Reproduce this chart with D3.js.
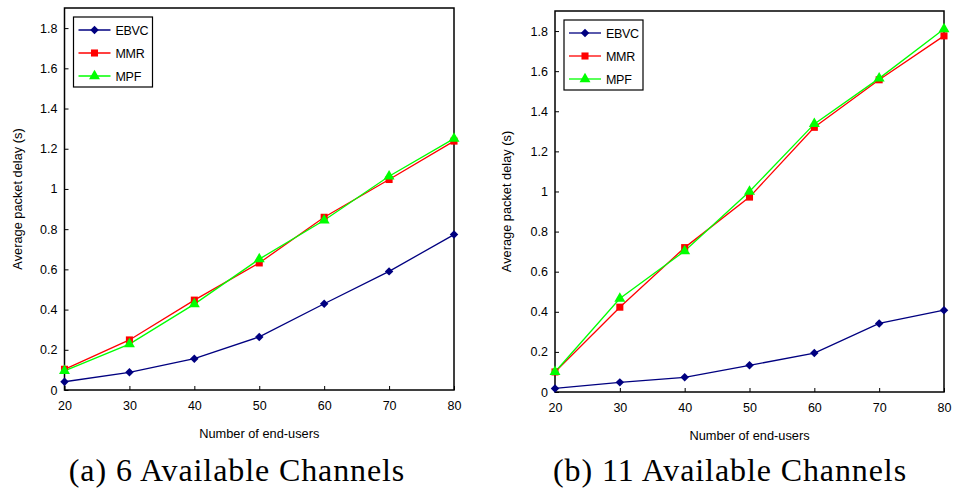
<!DOCTYPE html>
<html>
<head>
<meta charset="utf-8">
<script src="https://cdn.jsdelivr.net/npm/d3@7"></script>
<style>
  body { margin: 0; background: #fff; }
  svg { display: block; }
</style>
</head>
<body>
<svg></svg>
<script>
let users = [20, 30, 40, 50, 60, 70, 80]
let xTicks = [20, 30, 40, 50, 60, 70, 80]
let yTicks = [0, 0.2, 0.4, 0.6, 0.8, 1, 1.2, 1.4, 1.6, 1.8]
let seriesNames = ['EBVC', 'MMR', 'MPF']

// (a) 6 available channels
let ebvc6 = [0.041, 0.088, 0.156, 0.264, 0.429, 0.590, 0.773]
let mmr6  = [0.103, 0.249, 0.447, 0.632, 0.859, 1.047, 1.238]
let mpf6  = [0.095, 0.228, 0.427, 0.651, 0.844, 1.063, 1.250]

// (b) 11 available channels
let ebvc11 = [0.018, 0.048, 0.073, 0.133, 0.194, 0.342, 0.408]
let mmr11  = [0.100, 0.423, 0.720, 0.972, 1.320, 1.557, 1.776]
let mpf11  = [0.100, 0.466, 0.703, 1.000, 1.337, 1.564, 1.810]

let width = 957
let height = 492

let colors = { EBVC: '#000080', MMR: '#ff0000', MPF: '#00ff00' }
let symbols = { EBVC: d3.symbolSquare, MMR: d3.symbolSquare, MPF: d3.symbolTriangle }
let symSize = { EBVC: 36, MMR: 50, MPF: 52 }
let symRotate = { EBVC: 45, MMR: 0, MPF: 0 }

let svg = d3.select('svg')
            .attr('width', width)
            .attr('height', height)

let sansFont = '"Liberation Sans", Arial, sans-serif'

let drawPanel = (p) => {
    let xScale = d3.scaleLinear()
                   .domain([20, 80])
                   .range([p.left, p.right])
    let yScale = d3.scaleLinear()
                   .domain([0, 1.9])
                   .range([p.bottom, p.top])

    let g = svg.append('g')

    let xAxis = d3.axisBottom(xScale)
                  .tickValues(xTicks)
                  .tickSizeInner(-4)
                  .tickSizeOuter(0)
                  .tickPadding(11)
    let yAxis = d3.axisLeft(yScale)
                  .tickValues(yTicks)
                  .tickFormat(d3.format('~g'))
                  .tickSizeInner(-4)
                  .tickSizeOuter(0)
                  .tickPadding(7)

    g.append('g')
     .attr('transform', 'translate(0,' + p.bottom + ')')
     .call(xAxis)
     .call(a => a.select('.domain').remove())
    g.append('g')
     .attr('transform', 'translate(' + p.left + ',0)')
     .call(yAxis)
     .call(a => a.select('.domain').remove())

    g.selectAll('.tick line').attr('stroke', '#000').attr('stroke-width', 1)
    g.selectAll('.tick text')
     .attr('fill', '#000')
     .style('font-family', sansFont)
     .style('font-size', '12.5px')

    // frame
    g.append('rect')
     .attr('x', p.left)
     .attr('y', p.top)
     .attr('width', p.right - p.left)
     .attr('height', p.bottom - p.top)
     .attr('fill', 'none')
     .attr('stroke', '#000')
     .attr('stroke-width', 1.5)

    let line = d3.line()
                 .x((d, i) => xScale(users[i]))
                 .y((d) => yScale(d))

    p.series.forEach((s) => {
        g.append('path')
         .datum(s.values)
         .attr('d', line)
         .attr('fill', 'none')
         .attr('stroke', colors[s.name])
         .attr('stroke-width', 1.3)
    })
    p.series.forEach((s) => {
        g.selectAll('.m-' + s.name)
         .data(s.values)
         .enter()
         .append('path')
         .attr('transform', (d, i) => 'translate(' + xScale(users[i]) + ',' + yScale(d) + ') rotate(' + symRotate[s.name] + ')')
         .attr('d', d3.symbol().type(symbols[s.name]).size(symSize[s.name]))
         .attr('fill', colors[s.name])
    })

    // axis titles
    g.append('text')
     .attr('x', (p.left + p.right) / 2)
     .attr('y', p.bottom + 48)
     .attr('text-anchor', 'middle')
     .style('font-family', sansFont)
     .style('font-size', '12.8px')
     .text('Number of end-users')
    g.append('text')
     .attr('transform', 'translate(' + p.yTitleX + ',' + ((p.top + p.bottom) / 2) + ') rotate(-90)')
     .attr('text-anchor', 'middle')
     .style('font-family', sansFont)
     .style('font-size', '12.8px')
     .text('Average packet delay (s)')

    // legend
    let lx = p.left + 9
    let ly = p.top + 9
    g.append('rect')
     .attr('x', lx)
     .attr('y', ly)
     .attr('width', 79)
     .attr('height', 70)
     .attr('fill', '#fff')
     .attr('stroke', '#000')
     .attr('stroke-width', 1.2)
    seriesNames.forEach((name, i) => {
        let cy = ly + 13 + i * 23
        g.append('line')
         .attr('x1', lx + 5).attr('x2', lx + 37)
         .attr('y1', cy).attr('y2', cy)
         .attr('stroke', colors[name])
         .attr('stroke-width', 1.3)
        g.append('path')
         .attr('transform', 'translate(' + (lx + 21) + ',' + cy + ') rotate(' + symRotate[name] + ')')
         .attr('d', d3.symbol().type(symbols[name]).size(symSize[name]))
         .attr('fill', colors[name])
        g.append('text')
         .attr('x', lx + 42)
         .attr('y', cy)
         .attr('dy', '0.36em')
         .style('font-family', sansFont)
         .style('font-size', '12.5px')
         .style('letter-spacing', '-0.3px')
         .text(name)
    })

    // caption
    svg.append('text')
       .attr('x', p.captionX)
       .attr('y', 481)
       .attr('text-anchor', 'middle')
       .style('font-family', '"Liberation Serif", "DejaVu Serif", serif')
       .style('font-size', '32px')
       .style('letter-spacing', '0.9px')
       .text(p.caption)
}

drawPanel({
    left: 64.5, right: 454, top: 8, bottom: 390,
    yTitleX: 22, captionX: 237,
    caption: '(a) 6 Available Channels',
    series: [
        { name: 'EBVC', values: ebvc6 },
        { name: 'MMR', values: mmr6 },
        { name: 'MPF', values: mpf6 }
    ]
})

drawPanel({
    left: 555, right: 944, top: 11, bottom: 392,
    yTitleX: 511, captionX: 730,
    caption: '(b) 11 Available Channels',
    series: [
        { name: 'EBVC', values: ebvc11 },
        { name: 'MMR', values: mmr11 },
        { name: 'MPF', values: mpf11 }
    ]
})
</script>
</body>
</html>
